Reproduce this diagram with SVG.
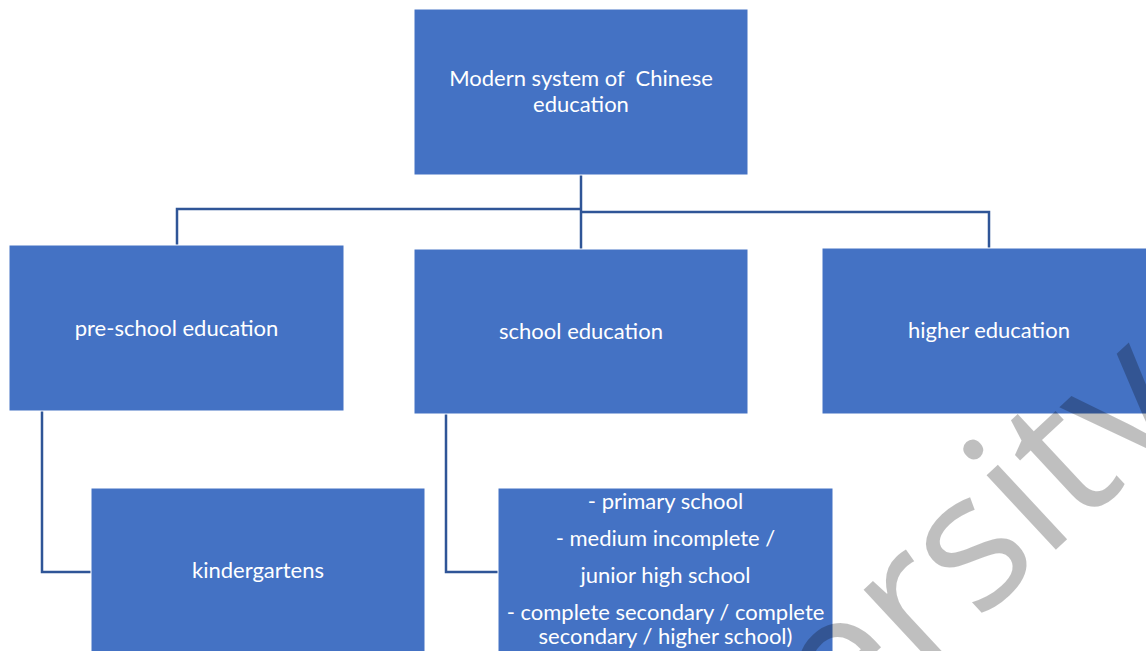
<svg xmlns="http://www.w3.org/2000/svg" width="1146" height="651" viewBox="0 0 1146 651">
<style>
.box{fill:#4472C4;stroke:#ffffff;stroke-width:1}
.lbl{font-family:Lato,"Open Sans","Liberation Sans",sans-serif;font-size:22px;fill:#ffffff;text-anchor:middle}
.con{fill:none;stroke:#2F5597;stroke-width:2.5}
.wm{font-family:"Open Sans","Liberation Sans",sans-serif;font-size:190px;fill:#000000;fill-opacity:0.25}
</style>
<rect width="1146" height="651" fill="#ffffff"/>
<g id="connectors">
<polyline class="con" points="581,175 581,249"/>
<polyline class="con" points="581,209 177,209 177,245"/>
<polyline class="con" points="581,212 989,212 989,248"/>
<polyline class="con" points="42,411 42,572 91,572"/>
<polyline class="con" points="446,414 446,572 498,572"/>
</g>
<g id="root">
<rect class="box" x="414" y="9" width="334" height="166"/>
<text class="lbl" x="581" y="86" style="white-space:pre">Modern system of  Chinese</text>
<text class="lbl" x="581" y="112">education</text>
</g>
<g id="preschool">
<rect class="box" x="9" y="245" width="335" height="166"/>
<text class="lbl" x="176.5" y="336">pre-school education</text>
</g>
<g id="school">
<rect class="box" x="414" y="249" width="334" height="165"/>
<text class="lbl" x="581" y="339">school education</text>
</g>
<g id="higher">
<rect class="box" x="822" y="248" width="334" height="166"/>
<text class="lbl" x="989" y="338">higher education</text>
</g>
<g id="kindergartens">
<rect class="box" x="91" y="488" width="334" height="166"/>
<text class="lbl" x="258" y="578">kindergartens</text>
</g>
<g id="schools">
<rect class="box" x="498" y="488" width="335" height="166"/>
<text class="lbl" x="665.5" y="509">- primary school</text>
<text class="lbl" x="665.5" y="546">- medium incomplete /</text>
<text class="lbl" x="665.5" y="583">junior high school</text>
<text class="lbl" x="665.5" y="620">- complete secondary / complete</text>
<text class="lbl" x="665.5" y="644">secondary / higher school)</text>
</g>
<g id="watermark">
<text class="wm" transform="rotate(-43)" x="592" y="1122" text-anchor="end">University</text>
</g>
</svg>
